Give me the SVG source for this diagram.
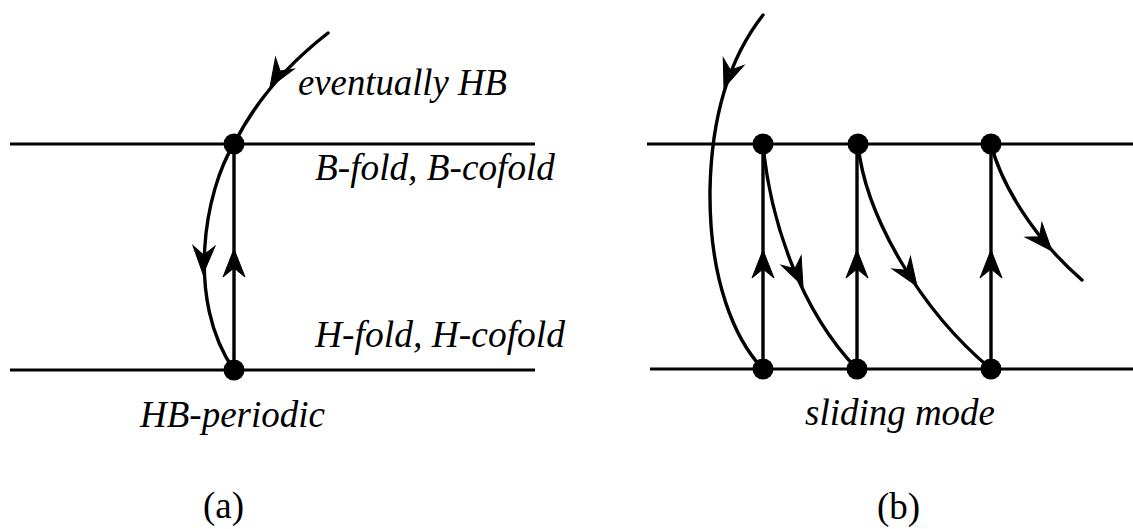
<svg xmlns="http://www.w3.org/2000/svg" width="1133" height="529" viewBox="0 0 1133 529">
<defs>
<style>
.ln{stroke:#000;stroke-width:3.2;fill:none}
.cv{stroke:#000;stroke-width:3.4;fill:none;stroke-linecap:round}
.ah{fill:#000;stroke:#000;stroke-width:1;stroke-linejoin:miter}
.dot{fill:#000}
.lbl{font-family:"Liberation Serif",serif;font-style:italic;font-size:37px;fill:#000}
.cap{font-family:"Liberation Serif",serif;font-size:37px;fill:#000}
</style>
</defs>
<rect width="1133" height="529" fill="#fff"/>
<g id="guides">
<line class="ln" x1="10" y1="144" x2="535" y2="144"/>
<line class="ln" x1="10" y1="370" x2="535" y2="370"/>
<line class="ln" x1="647" y1="144" x2="1133" y2="144"/>
<line class="ln" x1="650" y1="369" x2="1133" y2="369"/>
</g>
<g id="connectors">
<path class="cv" d="M328,33 Q265,82 234,144"/>
<path class="cv" d="M234,144 C205,190 185,300 234,370"/>
<line class="cv" x1="234" y1="370" x2="234" y2="144"/>
<path class="ah" d="M0,0 L-28,-11 L-19,0 L-28,11 Z" transform="translate(270,87) rotate(122)"/>
<path class="ah" d="M0,0 L-28,-11 L-19,0 L-28,11 Z" transform="translate(203,274) rotate(92)"/>
<path class="ah" d="M0,0 L-28,-11 L-19,0 L-28,11 Z" transform="translate(234,249) rotate(-90)"/>
<path class="cv" d="M763,15 Q712,80 710,190 C709,280 735,340 763,369"/>
<path class="ah" d="M0,0 L-28,-11 L-19,0 L-28,11 Z" transform="translate(724,88) rotate(110)"/>
<line class="cv" x1="763" y1="369" x2="763" y2="144"/>
<line class="cv" x1="857" y1="369" x2="857" y2="144"/>
<line class="cv" x1="991" y1="369" x2="991" y2="144"/>
<path class="ah" d="M0,0 L-28,-11 L-19,0 L-28,11 Z" transform="translate(763,250) rotate(-90)"/>
<path class="ah" d="M0,0 L-28,-11 L-19,0 L-28,11 Z" transform="translate(857,250) rotate(-90)"/>
<path class="ah" d="M0,0 L-28,-11 L-19,0 L-28,11 Z" transform="translate(991,250) rotate(-90)"/>
<path class="cv" d="M763,144 C770,220 800,310 857,369"/>
<path class="ah" d="M0,0 L-28,-11 L-19,0 L-28,11 Z" transform="translate(803,286) rotate(65)"/>
<path class="cv" d="M858,144 C865,215 920,310 991,369"/>
<path class="ah" d="M0,0 L-28,-11 L-19,0 L-28,11 Z" transform="translate(917,286) rotate(56)"/>
<path class="cv" d="M991,144 C1000,180 1030,235 1082,280"/>
<path class="ah" d="M0,0 L-28,-11 L-19,0 L-28,11 Z" transform="translate(1052,251) rotate(49)"/>
</g>
<g id="node-a-top"><circle class="dot" cx="234" cy="144" r="10.5"/></g>
<g id="node-a-bottom"><circle class="dot" cx="234" cy="370" r="10.5"/></g>
<g id="node-b-top1"><circle class="dot" cx="763" cy="144" r="10.5"/></g>
<g id="node-b-top2"><circle class="dot" cx="858" cy="144" r="10.5"/></g>
<g id="node-b-top3"><circle class="dot" cx="991" cy="144" r="10.5"/></g>
<g id="node-b-bot1"><circle class="dot" cx="763" cy="369" r="10.5"/></g>
<g id="node-b-bot2"><circle class="dot" cx="857" cy="369" r="10.5"/></g>
<g id="node-b-bot3"><circle class="dot" cx="991" cy="369" r="10.5"/></g>
<g id="labels">
<text class="lbl" x="298" y="95" textLength="209" lengthAdjust="spacingAndGlyphs">eventually HB</text>
<text class="lbl" x="315" y="180" textLength="240" lengthAdjust="spacingAndGlyphs">B-fold, B-cofold</text>
<text class="lbl" x="315" y="347" textLength="250" lengthAdjust="spacingAndGlyphs">H-fold, H-cofold</text>
<text class="lbl" x="140" y="427" textLength="185" lengthAdjust="spacingAndGlyphs">HB-periodic</text>
<text class="lbl" x="805" y="425" textLength="190" lengthAdjust="spacingAndGlyphs">sliding mode</text>
<text class="cap" x="203" y="518">(a)</text>
<text class="cap" x="877" y="519">(b)</text>
</g>
</svg>
